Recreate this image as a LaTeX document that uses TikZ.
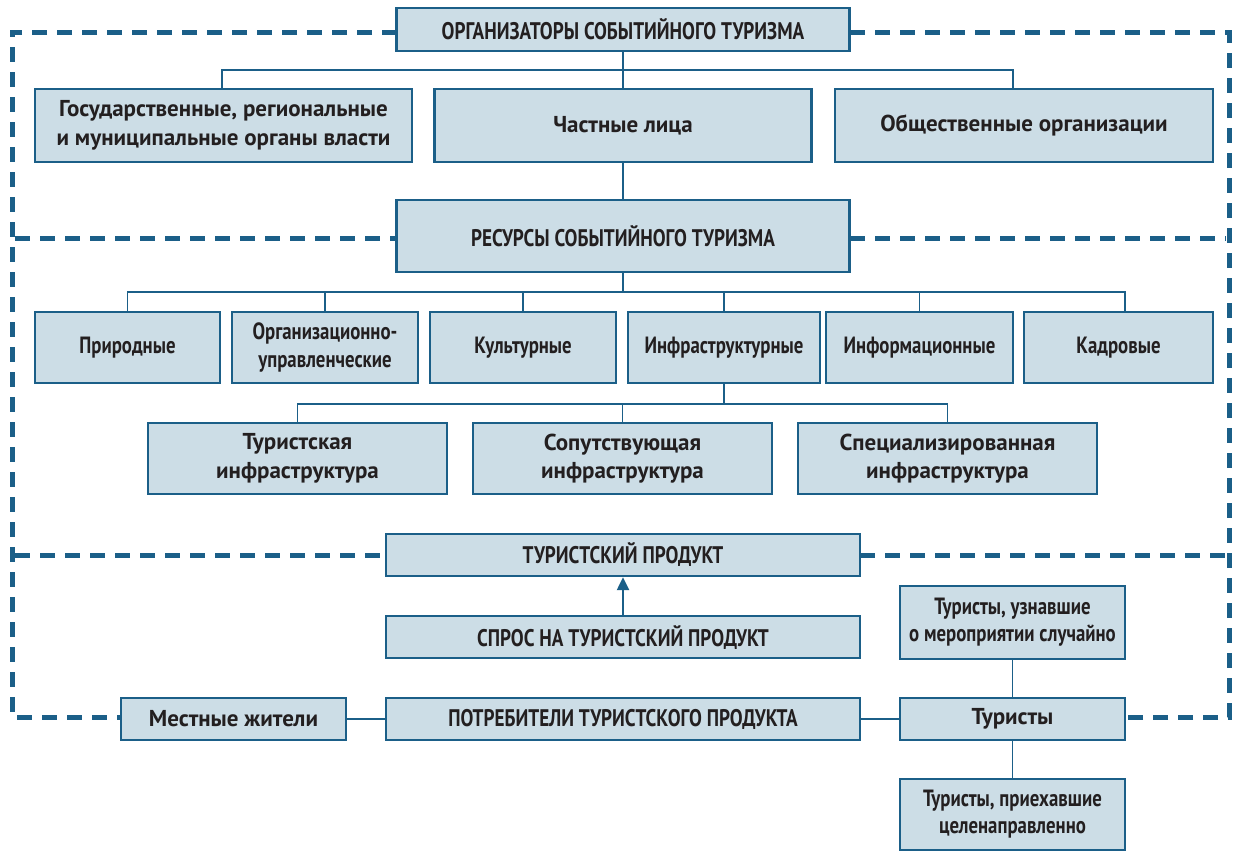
\documentclass[tikz,border=0pt]{standalone}
\usepackage{fontspec}
\setmainfont{PT Sans}
\newfontfamily\condf{PT Sans}[FakeStretch=0.8]
\usetikzlibrary{arrows.meta}
\definecolor{bfill}{HTML}{CCDDE6}
\definecolor{bline}{HTML}{1B5F88}
\definecolor{tcol}{HTML}{231F20}
\tikzset{
  box/.style={draw=bline, fill=bfill, line width=2.4pt, inner sep=2pt, align=center, text=tcol},
  semi/.style={box, font=\fontsize{23}{28.5}\selectfont\bfseries},
  cond/.style={box, font=\condf\fontsize{24}{28}\selectfont\bfseries},
  condr/.style={box, font=\condf\fontsize{23.5}{28}\selectfont\bfseries},
  condt/.style={box, font=\condf\fontsize{23.5}{27}\selectfont\bfseries},
  conn/.style={draw=bline, line width=1.6pt},
  dsh/.style={draw=bline, line width=5pt, dash pattern=on 15pt off 10pt}
}
\begin{document}
\begin{tikzpicture}[x=1pt,y=-1pt]
\useasboundingbox (0,0) rectangle (1233,852);
% dashed frame
\draw[dsh] (397,32) -- (12,32) -- (12,717) -- (121,717);
\draw[dsh] (850,32) -- (1229,32) -- (1229,717) -- (1125,717);
\draw[dsh] (15,238) -- (397,238);
\draw[dsh] (850,238) -- (1226,238);
\draw[dsh] (15,555) -- (386,555);
\draw[dsh] (860,555) -- (1226,555);
% nodes
\node[cond, minimum width=453pt, minimum height=43pt] (org) at (623,29.5) {ОРГАНИЗАТОРЫ СОБЫТИЙНОГО ТУРИЗМА};
\node[semi, minimum width=377pt, minimum height=73pt] (gov) at (223.5,125.5) {Государственные, региональные\\и муниципальные органы власти};
\node[semi, minimum width=377pt, minimum height=73pt] (priv) at (623,125.5) {Частные лица};
\node[semi, minimum width=378pt, minimum height=73pt] (pub) at (1024,125.5) {Общественные организации};
\node[cond, minimum width=453pt, minimum height=72pt] (res) at (623,236) {РЕСУРСЫ СОБЫТИЙНОГО ТУРИЗМА};
\node[condr, minimum width=185pt, minimum height=71pt] (nat) at (127.5,347.5) {Природные};
\node[condr, minimum width=186pt, minimum height=71pt] (orgu) at (325,347.5) {Организационно-\\управленческие};
\node[condr, minimum width=186pt, minimum height=71pt] (cult) at (523,347.5) {Культурные};
\node[condr, minimum width=192pt, minimum height=71pt] (infra) at (724,347.5) {Инфраструктурные};
\node[condr, minimum width=187pt, minimum height=71pt] (info) at (919.5,347.5) {Информационные};
\node[condr, minimum width=189pt, minimum height=71pt] (staff) at (1118.5,347.5) {Кадровые};
\node[semi, minimum width=299pt, minimum height=71pt] (tour) at (297.5,458.5) {Туристская\\инфраструктура};
\node[semi, minimum width=299pt, minimum height=71pt] (acc) at (622.5,458.5) {Сопутствующая\\инфраструктура};
\node[semi, minimum width=299pt, minimum height=71pt] (spec) at (947.5,458.5) {Специализированная\\инфраструктура};
\node[cond, minimum width=474pt, minimum height=42pt] (tp) at (623,555) {ТУРИСТСКИЙ ПРОДУКТ};
\node[cond, minimum width=474pt, minimum height=42pt] (dem) at (623,637) {СПРОС НА ТУРИСТСКИЙ ПРОДУКТ};
\node[cond, minimum width=474pt, minimum height=42pt] (cons) at (623,719) {ПОТРЕБИТЕЛИ ТУРИСТСКОГО ПРОДУКТА};
\node[semi, minimum width=225pt, minimum height=42pt] (loc) at (233.5,719) {Местные жители};
\node[semi, minimum width=225pt, minimum height=42pt] (tur) at (1012.5,719) {Туристы};
\node[condt, minimum width=225pt, minimum height=73pt] (tur1) at (1012.5,622.5) {Туристы, узнавшие\\о мероприятии случайно};
\node[condt, minimum width=225pt, minimum height=71pt] (tur2) at (1012.5,814.5) {Туристы, приехавшие\\целенаправленно};
% connectors
\coordinate (b0) at (623,70);
\draw[conn] (org.south) -- (b0);
\draw[conn] (gov.north -| 222,0) -- (222,70) -- (1013,70) -- (pub.north -| 1013,0);
\draw[conn] (b0) -- (priv.north);
\draw[conn] (priv.south) -- (res.north);
\coordinate (b1) at (623,292);
\draw[conn] (res.south) -- (b1);
\draw[conn] (nat.north) -- (nat.north |- b1) -- (1125,292) -- (staff.north -| 1125,0);
\foreach \n in {orgu,cult,infra,info} \draw[conn] (\n.north) -- (\n.north |- b1);
\coordinate (b2) at (724,404);
\draw[conn] (infra.south) -- (b2);
\draw[conn] (tour.north) -- (tour.north |- b2) -- (spec.north |- b2) -- (spec.north);
\draw[conn] (acc.north) -- (acc.north |- b2);
\draw[draw=bline, line width=2.4pt, -{Triangle[width=12pt,length=13pt]}] (dem.north) -- (tp.south);
\draw[conn] (loc.east) -- (cons.west);
\draw[conn] (cons.east) -- (tur.west);
\draw[conn] (tur1.south) -- (tur.north);
\draw[conn] (tur.south) -- (tur2.north);
\end{tikzpicture}
\end{document}
